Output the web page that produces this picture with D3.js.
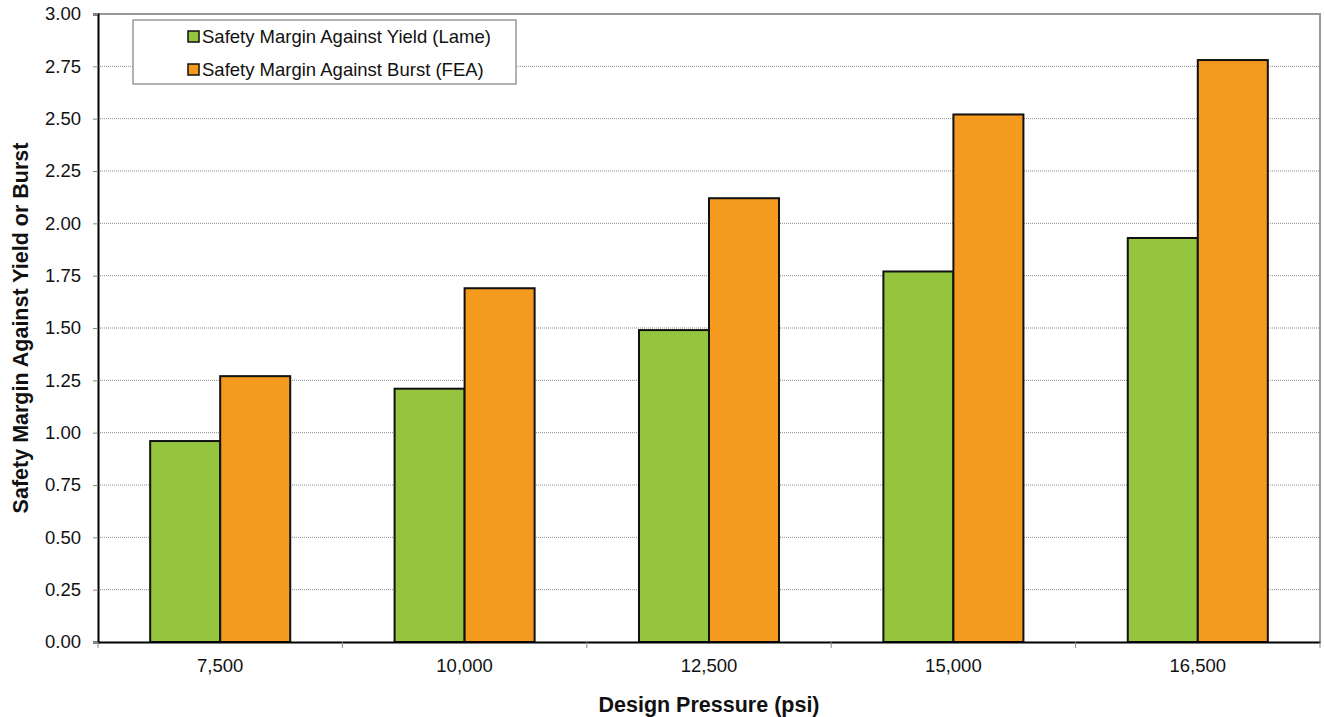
<!DOCTYPE html>
<html>
<head>
<meta charset="utf-8">
<script src="https://cdn.jsdelivr.net/npm/d3@7"></script>
<style>
  html, body { margin: 0; padding: 0; background: #fff; }
  svg { display: block; font-family: "Liberation Sans", Arial, sans-serif; }
</style>
</head>
<body>
<svg id="chart" width="1324" height="717"></svg>
<script>
// Design pressures (psi) and the two safety margins at each pressure
const pressures = ["7,500", "10,000", "12,500", "15,000", "16,500"];
const yieldLame = [0.96, 1.21, 1.49, 1.77, 1.93];
const burstFEA = [1.27, 1.69, 2.12, 2.52, 2.78];
const seriesNames = ["Safety Margin Against Yield (Lame)", "Safety Margin Against Burst (FEA)"];
const seriesColors = ["#95c43f", "#f39a1f"];
const yTicks = [0, 0.25, 0.5, 0.75, 1, 1.25, 1.5, 1.75, 2, 2.25, 2.5, 2.75, 3];

const svg = d3.select("#chart");
const m = { left: 98, top: 14, right: 1320, bottom: 642 };

const x = d3.scaleBand().domain(pressures).range([m.left, m.right]).paddingInner(0).paddingOuter(0);
const y = d3.scaleLinear().domain([0, 3]).range([m.bottom, m.top]);

const barW = x.bandwidth() * 0.2865;

// Gridlines
svg.append("g")
  .selectAll("line")
  .data(yTicks.filter(d => d > 0 && d < 3))
  .join("line")
  .attr("x1", m.left).attr("x2", m.right)
  .attr("y1", d => y(d)).attr("y2", d => y(d))
  .attr("stroke", "#8a8a8a")
  .attr("stroke-width", 1)
  .attr("stroke-dasharray", "1,1");

// Plot frame (top and right)
svg.append("path")
  .attr("d", `M${m.left},${m.top}H${m.right}V${m.bottom}`)
  .attr("fill", "none")
  .attr("stroke", "#999")
  .attr("stroke-width", 2);

// Bars
const data = pressures.map((p, i) => ({ p, vals: [yieldLame[i], burstFEA[i]] }));
const groups = svg.append("g").selectAll("g").data(data).join("g");
groups.selectAll("rect")
  .data(d => d.vals.map((v, k) => ({ p: d.p, v, k })))
  .join("rect")
  .attr("x", d => x(d.p) + x.bandwidth() / 2 + (d.k - 1) * barW)
  .attr("width", barW)
  .attr("y", d => y(d.v))
  .attr("height", d => y(0) - y(d.v))
  .attr("fill", d => seriesColors[d.k])
  .attr("stroke", "#111")
  .attr("stroke-width", 2);

// Y axis
const yAxis = svg.append("g")
  .attr("transform", `translate(${m.left},0)`)
  .call(d3.axisLeft(y).tickValues(yTicks).tickFormat(d3.format(".2f")).tickSize(5).tickPadding(12));
yAxis.select(".domain").attr("stroke", "#000").attr("stroke-width", 2);
yAxis.selectAll(".tick line").attr("stroke", "#888");
yAxis.selectAll("text").attr("font-size", 18.5).attr("fill", "#111");

// X axis
const xAxis = svg.append("g")
  .attr("transform", `translate(0,${m.bottom})`)
  .call(d3.axisBottom(x).tickSize(0).tickPadding(17));
xAxis.select(".domain").attr("stroke", "#000").attr("stroke-width", 2);
xAxis.selectAll("text").attr("font-size", 18.5).attr("fill", "#111");

// Category separators on the x axis
svg.append("g")
  .selectAll("line")
  .data(pressures.map(p => x(p)).concat([m.right]))
  .join("line")
  .attr("x1", d => d).attr("x2", d => d)
  .attr("y1", m.bottom).attr("y2", m.bottom + 6)
  .attr("stroke", "#888");

// Axis titles
svg.append("text")
  .attr("x", (m.left + m.right) / 2)
  .attr("y", 712)
  .attr("text-anchor", "middle")
  .attr("font-size", 21.5)
  .attr("font-weight", "bold")
  .attr("fill", "#111")
  .text("Design Pressure (psi)");

svg.append("text")
  .attr("transform", `translate(28,${(m.top + m.bottom) / 2}) rotate(-90)`)
  .attr("text-anchor", "middle")
  .attr("font-size", 21.5)
  .attr("font-weight", "bold")
  .attr("fill", "#111")
  .text("Safety Margin Against Yield or Burst");

// Legend
const lg = svg.append("g").attr("transform", "translate(133,20)");
lg.append("rect")
  .attr("width", 383).attr("height", 64)
  .attr("fill", "#fff")
  .attr("stroke", "#999")
  .attr("stroke-width", 1.5);
seriesNames.forEach((name, i) => {
  const row = lg.append("g").attr("transform", `translate(55,${16.5 + i * 33})`);
  row.append("rect")
    .attr("x", 0).attr("y", -5.5)
    .attr("width", 11).attr("height", 11)
    .attr("fill", seriesColors[i])
    .attr("stroke", "#111")
    .attr("stroke-width", 1.5);
  row.append("text")
    .attr("x", 14).attr("y", 6.5)
    .attr("font-size", 18.5)
    .attr("fill", "#111")
    .text(name);
});
</script>
</body>
</html>
